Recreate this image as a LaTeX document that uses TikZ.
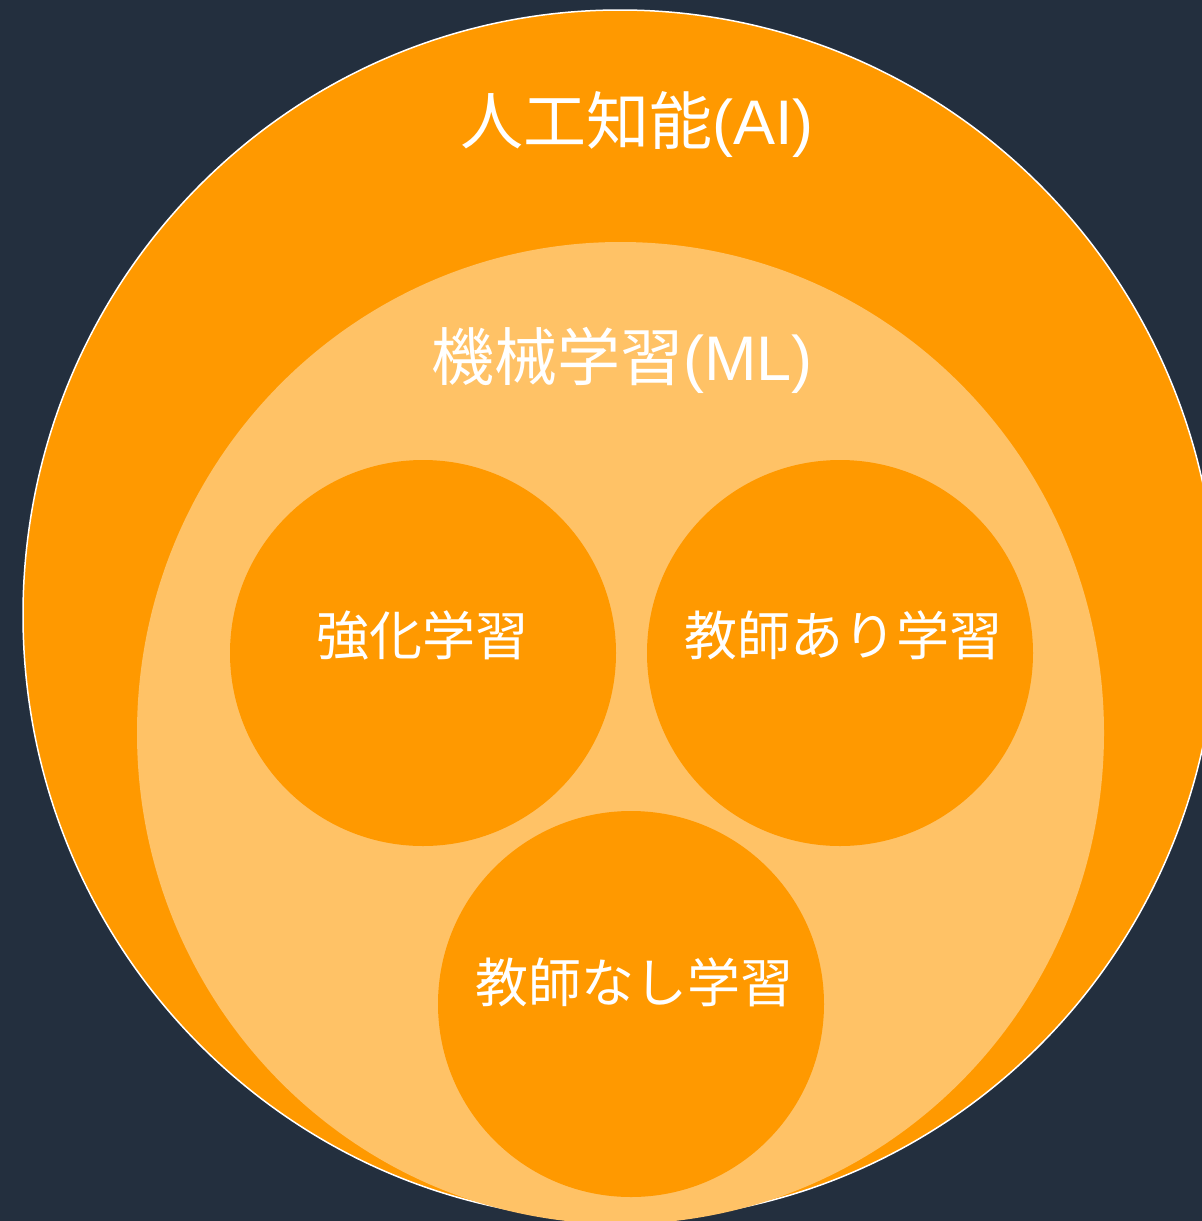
\documentclass[tikz,border=0pt]{standalone}
\usepackage{fontspec}
\newfontfamily\jpfont{Noto Sans CJK JP}
\newfontfamily\latfont{Liberation Sans}
\definecolor{bgnavy}{HTML}{232F3E}
\definecolor{aiorange}{HTML}{FF9900}
\definecolor{mllight}{HTML}{FFC266}
\tikzset{
  subcircle/.style={circle, fill=aiorange, minimum size=386pt, inner sep=0pt, draw=none},
  biglabel/.style={text=white, font=\jpfont\fontsize{63pt}{63pt}\selectfont, anchor=base, inner sep=0pt},
  smalllabel/.style={text=white, font=\jpfont\fontsize{53pt}{53pt}\selectfont, anchor=base, inner sep=0pt}
}
\begin{document}
\begin{tikzpicture}[x=1pt,y=-1pt]
\useasboundingbox (0,0) rectangle (1202,1221);
\fill[bgnavy] (0,0) rectangle (1202,1221);
\clip (0,0) rectangle (1202,1221);
% outer AI ellipse
\path[fill=aiorange, draw=white, line width=1.5pt] (620,615) ellipse [x radius=597, y radius=605];
% ML ellipse
\path[fill=mllight] (620.5,733) ellipse [x radius=483.5, y radius=491];
% sub circles
\node[subcircle] (rl) at (423,653) {};
\node[subcircle] (sl) at (840,653) {};
\node[subcircle] (ul) at (631,1004) {};
% labels
\node[biglabel] (ailabel) at (637,144) {人工知能{\latfont (AI)}};
\node[biglabel] (mllabel) at (622,380) {機械学習{\latfont (ML)}};
\node[smalllabel] (rllabel) at (422.5,655) {強化学習};
\node[smalllabel] (sllabel) at (843,655) {教師あり学習};
\node[smalllabel] (ullabel) at (634,1002) {教師なし学習};
\end{tikzpicture}
\end{document}
